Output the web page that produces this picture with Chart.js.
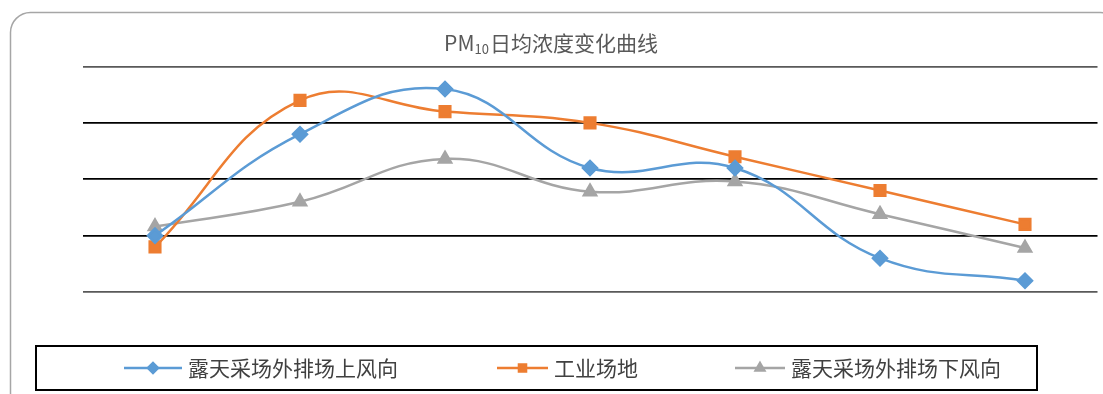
<!DOCTYPE html>
<html>
<head>
<meta charset="utf-8">
<script src="https://cdn.jsdelivr.net/npm/chart.js@4/dist/chart.umd.min.js"></script>
<style>
  html, body { margin: 0; padding: 0; background: #fff; }
  #wrap { width: 1103px; height: 394px; position: relative; }
</style>
</head>
<body>
<div id="wrap"><canvas id="pmChart" width="1103" height="394"></canvas></div>
<script>
// 7 sampling days, PM10 daily mean (ug/m3)
var days = ['1', '2', '3', '4', '5', '6', '7'];
var upwind = [50, 140, 180, 110, 110, 30, 10];
var industrial = [40, 170, 160, 150, 120, 90, 60];
var downwind = [58, 80, 118, 89, 98, 69, 39];
var seriesNames = ['露天采场外排场上风向', '工业场地', '露天采场外排场下风向'];
var yTicks = [0, 50, 100, 150, 200];

var cjk = '"Noto Sans CJK SC", "Noto Sans", sans-serif';

// frame, title and the boxed legend are painted by hand
var decorations = {
    id: 'decorations',
    beforeDraw: function(chart) {
        var ctx = chart.ctx;
        ctx.save();
        ctx.fillStyle = '#fff';
        ctx.fillRect(0, 0, chart.width, chart.height);
        ctx.strokeStyle = '#a6a6a6';
        ctx.lineWidth = 1.5;
        ctx.beginPath();
        ctx.roundRect(10.5, 12.5, 1110, 400, 20);
        ctx.stroke();

        // title with subscript, centred
        ctx.fillStyle = '#595959';
        ctx.textBaseline = 'alphabetic';
        var big = '21px ' + cjk, small = '13px ' + cjk;
        ctx.font = big;
        var wPM = ctx.measureText('PM').width;
        var wRest = ctx.measureText('日均浓度变化曲线').width;
        ctx.font = small;
        var wSub = ctx.measureText('10').width + 1;
        var x = 551 - (wPM + wSub + wRest) / 2, y = 51;
        ctx.font = big;
        ctx.fillText('PM', x, y);
        x += wPM;
        ctx.font = small;
        ctx.fillText('10', x, y + 3);
        x += wSub;
        ctx.font = big;
        ctx.fillText('日均浓度变化曲线', x, y);
        ctx.restore();
    },
    afterDraw: function(chart) {
        var ctx = chart.ctx;
        ctx.save();
        ctx.strokeStyle = '#000';
        ctx.lineWidth = 2;
        ctx.strokeRect(36, 346, 1001, 44);

        var lines = [[124, 182], [497, 548], [735, 785]];
        chart.data.datasets.forEach(function(ds, i) {
            var x0 = lines[i][0], x1 = lines[i][1], y0 = 368;
            ctx.strokeStyle = ds.borderColor;
            ctx.lineWidth = 2.5;
            ctx.beginPath();
            ctx.moveTo(x0, y0);
            ctx.lineTo(x1, y0);
            ctx.stroke();
            ctx.fillStyle = ds.backgroundColor;
            Chart.helpers.drawPoint(ctx, {
                pointStyle: ds.pointStyle,
                radius: 5,
                rotation: 0,
                borderWidth: 1
            }, (x0 + x1) / 2, y0);
            ctx.fillStyle = '#404040';
            ctx.font = '21px ' + cjk;
            ctx.textBaseline = 'middle';
            ctx.fillText(ds.label, x1 + 6, y0);
        });
        ctx.restore();
    }
};

function series(label, data, color, shape, radius) {
    return {
        label: label,
        data: data,
        borderColor: color,
        backgroundColor: color,
        pointBackgroundColor: color,
        pointBorderColor: color,
        pointStyle: shape,
        pointRadius: radius,
        pointHoverRadius: radius,
        borderWidth: 2.5,
        tension: 0.42,
        fill: false
    };
}

new Chart(document.getElementById('pmChart'), {
    type: 'line',
    data: {
        labels: days,
        datasets: [
            series(seriesNames[0], upwind, '#5b9bd5', 'rectRot', 7),
            series(seriesNames[1], industrial, '#ed7d31', 'rect', 7.5),
            series(seriesNames[2], downwind, '#a5a5a5', 'triangle', 7)
        ]
    },
    options: {
        responsive: false,
        animation: false,
        layout: { autoPadding: false, padding: { left: 82.5, right: 5.5, top: 66.5, bottom: 102 } },
        plugins: { legend: { display: false }, title: { display: false }, tooltip: { enabled: false } },
        scales: {
            x: { display: false, offset: true },
            y: {
                min: yTicks[0],
                max: yTicks[yTicks.length - 1],
                afterBuildTicks: function(axis) {
                    axis.ticks = yTicks.map(function(v) { return { value: v }; });
                },
                ticks: { display: false },
                border: { display: false },
                grid: {
                    drawTicks: false,
                    lineWidth: 1.8,
                    color: function(c) {
                        var v = c.tick.value;
                        return (v === yTicks[0] || v === yTicks[yTicks.length - 1]) ? '#595959' : '#000';
                    }
                }
            }
        }
    },
    plugins: [decorations]
});
</script>
</body>
</html>
